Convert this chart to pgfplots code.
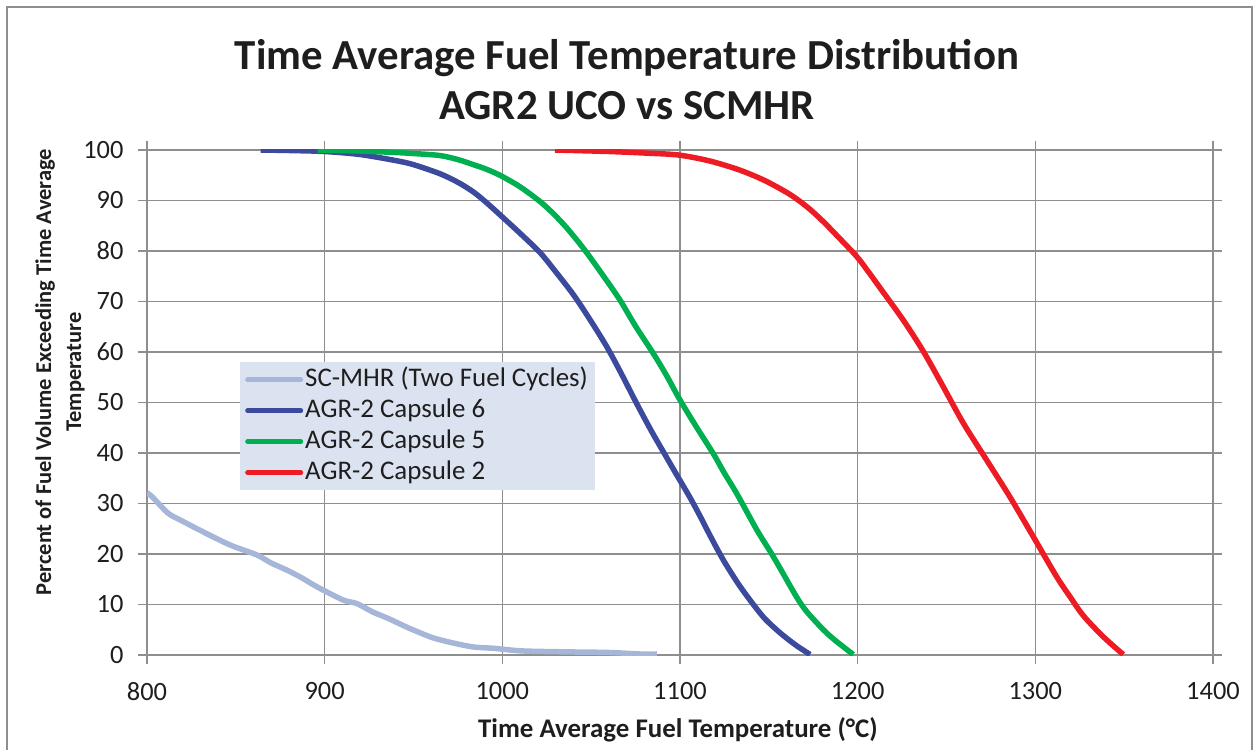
\documentclass[border=0pt]{standalone}
\usepackage{fontspec}
\setmainfont{Carlito}
\usepackage{pgfplots}
\pgfplotsset{compat=1.18}
\definecolor{scmhr}{HTML}{A6B6D8}
\definecolor{capsix}{HTML}{3C4A9E}
\definecolor{capfive}{HTML}{00B050}
\definecolor{captwo}{HTML}{ED1C24}
\definecolor{gridgray}{HTML}{8E8E8E}
\definecolor{legfill}{HTML}{DCE3F0}
\definecolor{txt}{HTML}{1E1E1E}
\begin{document}
\begin{tikzpicture}
\useasboundingbox (-147bp,-95bp) rectangle (1108bp,655bp);
\draw[gridgray, line width=2bp] (-140bp,-100bp) -- (-140bp,648bp) -- (1105bp,648bp) -- (1105bp,-100bp);
\begin{axis}[
  at={(0,0)}, anchor=south west,
  scale only axis, width=1066bp, height=505bp,
  xmin=800, xmax=1400, ymin=0, ymax=100,
  xtick={800,900,...,1400}, ytick={0,10,...,100},
  grid=major,
  major grid style={gridgray, line width=1.6bp},
  axis line style={gridgray, line width=1.6bp},
  tick style={gridgray, line width=1.6bp},
  tick align=outside, major tick length=9bp,
  /pgf/number format/assume math mode=true,
  /pgf/number format/1000 sep={},
  ticklabel style={font=\fontsize{26.5}{30}\selectfont, text=txt},
  xticklabel style={yshift=-15bp},
  yticklabel style={xshift=-11bp},
  legend style={at={(93bp,293bp)}, anchor=north west, fill=legfill, draw=none,
    font=\fontsize{27}{31}\selectfont, text=txt, inner xsep=5bp, inner ysep=2bp,
    row sep=0bp, nodes={inner ysep=2.5bp, text height=20bp, text depth=6bp},
    /tikz/every even column/.append style={column sep=2bp}},
  legend cell align=left,
  legend image code/.code={\draw[#1, line width=5bp, line cap=round] (0bp,0bp) -- (53bp,0bp);},
  every axis plot/.append style={line width=5.5bp, line join=round, smooth, tension=0.5},
]
\addplot[scmhr] coordinates {
(800,32.1)(803,31.3)(811.8,28.1)(820,26.5)(831.5,24.4)(846.7,21.8)(861.9,19.8)(870,18.2)(878.8,16.8)
(887,15.3)(895.7,13.5)(910.3,10.9)(918,10.2)(927.2,8.5)(936,7.2)(946.3,5.5)(953,4.5)(961,3.4)(972,2.4)
(983.5,1.6)(996,1.3)(1011.6,0.8)(1039.8,0.6)(1060,0.5)(1077.5,0.2)(1087,0.2)};
\addlegendentry{SC-MHR (Two Fuel Cycles)}
\addplot[capsix] coordinates {
(864,100)(880,99.9)(900,99.7)(920,99.1)(940,97.9)(950,97.1)(964.9,95.3)(975,93.6)(983.7,91.7)(991,89.6)
(999.2,87.0)(1010,83.5)(1021.2,79.7)(1030,75.9)(1039.9,71.4)(1049,66.6)(1058.7,61.1)(1067,55.7)
(1075.6,49.8)(1084,44.3)(1092.5,39.1)(1098.1,35.7)(1105.6,31.2)(1111.3,27.5)(1117,23.6)(1124.4,18.8)
(1133,14.0)(1141.3,10.0)(1148,7.1)(1156.3,4.4)(1165,2.0)(1173.2,0.1)};
\addlegendentry{AGR-2 Capsule 6}
\addplot[capfive] coordinates {
(896,100)(920,99.8)(940,99.5)(950,99.3)(964.9,98.9)(975,98.1)(983.7,97.1)(991,96.2)(999.2,94.9)(1010,92.7)
(1021.2,89.8)(1029,87.3)(1036.2,84.6)(1043.7,81.4)(1049.3,78.8)(1057,75.0)(1066.2,70.3)(1075,65.1)
(1085,59.7)(1092.5,55.3)(1100,50.5)(1109,45.3)(1118.7,39.9)(1125,36.0)(1131.9,32.0)(1143.2,24.8)
(1150.6,20.6)(1156.3,17.2)(1165.6,11.5)(1171.3,8.6)(1180.7,5.0)(1186.3,3.2)(1192,1.6)(1197.5,0.1)};
\addlegendentry{AGR-2 Capsule 5}
\addplot[captwo] coordinates {
(1029.6,100)(1060,99.7)(1080,99.4)(1099.3,99.0)(1117,97.8)(1133.8,96.0)(1148,93.9)(1161.9,91.2)(1172,88.6)
(1180.7,85.8)(1189,82.8)(1199.5,78.9)(1206,75.9)(1212.6,72.7)(1225.7,66.3)(1237,60.1)(1248.2,53.1)
(1259.5,45.9)(1272.6,38.6)(1285.7,31.3)(1298.9,23.4)(1312,15.5)(1320,11.3)(1327,7.8)(1338.3,3.6)(1349.5,0.1)};
\addlegendentry{AGR-2 Capsule 2}
\end{axis}
\node[font=\fontsize{43}{50}\selectfont\bfseries, text=txt, align=center] at (480bp,575bp)
  {Time Average Fuel Temperature Distribution\\AGR2 UCO vs SCMHR};
\node[font=\fontsize{22.6}{30}\selectfont\bfseries, text=txt, align=center, rotate=90] at (-87bp,283bp)
  {Percent of Fuel Volume Exceeding Time Average\\Temperature};
\node[font=\fontsize{27}{30}\selectfont\bfseries, text=txt] at (531bp,-75bp)
  {Time Average Fuel Temperature (°C)};
\end{tikzpicture}
\end{document}
